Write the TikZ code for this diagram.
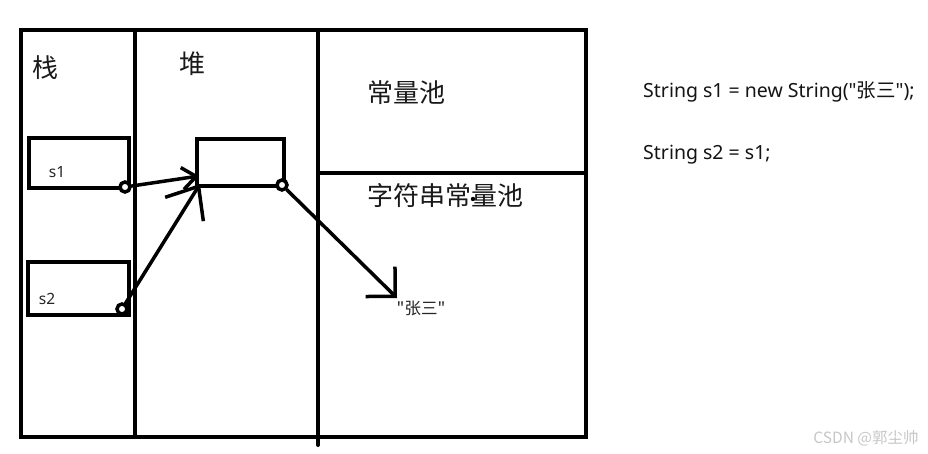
\documentclass[tikz,border=0pt]{standalone}
\usepackage{fontspec}
\setmainfont{Noto Sans}[Ligatures=TeXOff]
\newfontfamily\cjk{Noto Sans CJK SC}[Ligatures=TeXOff]
\usetikzlibrary{arrows.meta}

\begin{document}
\begin{tikzpicture}[
  x=1pt, y=-1pt,
  wall/.style={line width=4pt, line cap=round},
  title/.style={font=\cjk\fontsize{26}{30}\selectfont, text=black!90, inner sep=0pt},
  slot/.style={draw, line width=4pt, inner sep=0pt},
  ring/.style={circle, draw, line width=3.5pt, minimum size=10pt, inner sep=0pt, fill=white},
  small/.style={font=\fontsize{15.5}{18}\selectfont, text=black!85, inner sep=0pt},
  code/.style={font=\fontsize{19.5}{23}\selectfont, text=black!92, anchor=base west, inner sep=0pt},
  arrow/.style={line width=3.5pt, line cap=round}
]
\fill[white] (0,0) rectangle (928,454);
\useasboundingbox (0,0) rectangle (928,454);

% memory areas
\draw[wall] (21,30) rectangle (586,437);
\draw[wall] (135,30) -- (135,437);
\draw[wall] (318,30) -- (318,445);
\draw[wall] (318,173) -- (586,173);

\node[title] (stack) at (45,68) {栈};
\node[title] (heap) at (192,64) {堆};
\node[title] (const) at (406,93) {常量池};
\node[title] (strpool) at (445,196) {字符串常量池};
\fill (473,199) circle (2.2pt);

% references and object
\node[slot, minimum width=100pt, minimum height=50pt] (s1box) at (78.5,163) {};
\node[slot, minimum width=101pt, minimum height=53pt] (s2box) at (78.5,288.5) {};
\node[slot, minimum width=87pt, minimum height=47pt] (obj) at (240.5,162.5) {};
\node[small] (s1) at (57,172) {s1};
\node[small] (s2) at (47,299) {s2};
\node[ring] (p1) at (125,187) {};
\node[ring] (p2) at (122,309) {};
\node[ring] (p3) at (282,185) {};

\node[font=\cjk\fontsize{16.5}{19}\selectfont, text=black!85, inner sep=0pt] (str) at (421,308) {"张三"};

\coordinate (t1) at (199,176);
\coordinate (t2) at (200,184);
\coordinate (t3) at (397,298);

\draw[arrow, -{Straight Barb[length=14pt, width=22pt]}] (p1) -- (t1);
\draw[arrow, -{Straight Barb[length=27pt, width=45pt]}] (p2) -- (t2);
\draw[arrow, -{Straight Barb[length=21pt, width=42pt]}] (p3) -- (t3);

% code
\node[code] (code1) at (643,98) {String s1 = new String("{\cjk 张三}");};
\node[code] (code2) at (643,160) {String s2 = s1;};

\node[font=\cjk\fontsize{15.5}{18}\selectfont, text=black!22, inner sep=0pt] (mark) at (866,438) {CSDN @郭尘帅};
\end{tikzpicture}
\end{document}
